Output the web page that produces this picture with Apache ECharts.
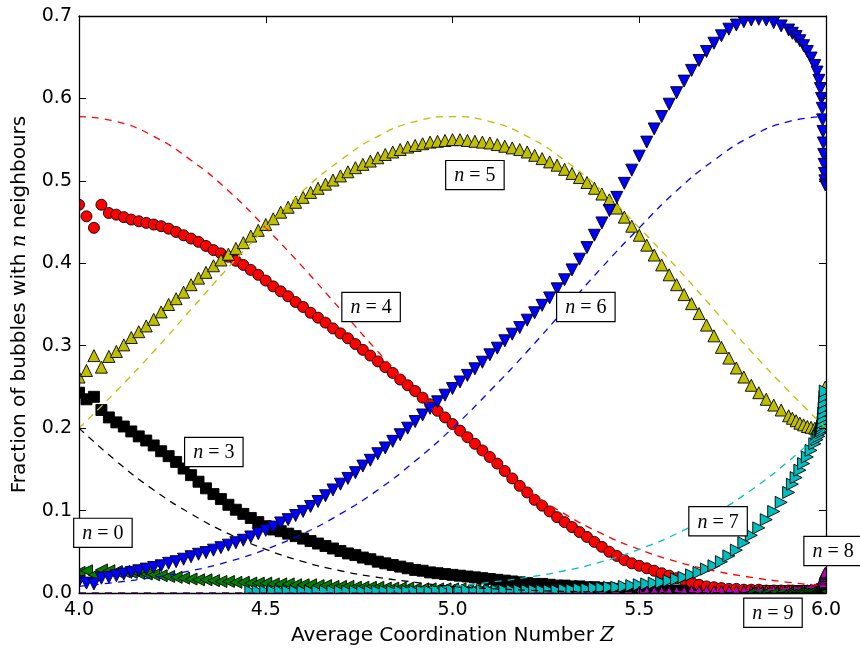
<!DOCTYPE html>
<html><head><meta charset="utf-8">
<script src="https://cdn.jsdelivr.net/npm/echarts@6/dist/echarts.min.js"></script>
<style>html,body{margin:0;padding:0;background:#fff}#c{width:860px;height:651px}</style>
</head><body><div id="c"></div>
<script>
// Average coordination number Z (sample positions)
const zValues = [
4.00,4.02,4.04,4.06,4.08,4.10,4.12,4.14,4.16,4.18,
4.20,4.22,4.24,4.26,4.28,4.30,4.32,4.34,4.36,4.38,
4.40,4.42,4.44,4.46,4.48,4.50,4.52,4.54,4.56,4.58,
4.60,4.62,4.64,4.66,4.68,4.70,4.72,4.74,4.76,4.78,
4.80,4.82,4.84,4.86,4.88,4.90,4.92,4.94,4.96,4.98,
5.00,5.02,5.04,5.06,5.08,5.10,5.12,5.14,5.16,5.18,
5.20,5.22,5.24,5.26,5.28,5.30,5.32,5.34,5.36,5.38,
5.40,5.42,5.44,5.46,5.48,5.50,5.52,5.54,5.56,5.58,
5.60,5.62,5.64,5.66,5.68,5.70,
5.72,5.74,5.76,5.78,5.80,5.82,5.84,5.86,5.88,5.90,
5.91,5.92,5.93,5.94,5.95,5.96,5.97,5.976,5.981,5.985,
5.988,5.990,5.991,5.992,5.993,5.994,5.995,5.996,5.997,5.998];

// n = 0 (rattlers)
const frac0 = [
0.025,0.027,0.022,0.028,0.027,0.026,0.026,0.025,0.024,0.023,
0.022,0.021,0.020,0.019,0.018,0.017,0.016,0.016,0.015,0.014,
0.014,0.013,0.013,0.012,0.012,0.012,0.011,0.011,0.011,0.010,
0.010,0.010,0.009,0.009,0.008,0.008,0.008,0.007,0.007,0.007,
0.007,0.006,0.006,0.006,0.006,0.005,0.005,0.005,0.005,0.005,
0.005,0.005,0.004,0.004,0.004,0.004,0.004,0.004,0.004,0.004,
0.003,0.003,0.003,0.003,0.003,0.003,0.003,0.003,0.003,0.003,
0.003,0.003,0.003,0.003,0.003,0.002,0.002,0.002,0.002,0.002,
0.002,0.002,0.002,0.002,0.002,0.002,
0.002,0.002,0.002,0.002,0.002,0.002,0.002,0.002,0.002,0.002,
0.001,0.001,0.001,0.001,0.001,0.001,0.001,0.001,0.001,0.001,
0.001,0.001,0.001,0.001,0.001,0.001,0.001,0.001,0.001,0.001];

// n = 3
const frac3 = [
0.243,0.235,0.238,0.222,0.213,0.207,0.202,0.196,0.190,0.185,
0.179,0.172,0.166,0.159,0.151,0.143,0.135,0.127,0.120,0.114,
0.107,0.101,0.096,0.091,0.086,0.081,0.077,0.075,0.072,0.069,
0.066,0.063,0.060,0.057,0.054,0.051,0.048,0.046,0.043,0.041,
0.038,0.036,0.034,0.032,0.030,0.028,0.027,0.025,0.024,0.023,
0.022,0.021,0.020,0.019,0.018,0.017,0.016,0.015,0.014,0.013,
0.012,0.011,0.011,0.010,0.009,0.009,0.008,0.008,0.007,0.007,
0.006,0.006,0.005,0.005,0.005,0.004,0.004,0.004,0.003,0.003,
0.003,0.003,0.003,0.003,0.003,0.003,
0.002,0.002,0.002,0.002,0.002,0.002,0.002,0.002,0.002,0.002,
0.002,0.002,0.002,0.002,0.002,0.002,0.002,0.002,0.002,0.002,
0.001,0.001,0.001,0.001,0.001,0.001,0.001,0.001,0.001,0.001];

// n = 4
const frac4 = [
0.471,0.457,0.443,0.471,0.461,0.459,0.456,0.453,0.451,0.449,
0.447,0.445,0.442,0.438,0.434,0.430,0.426,0.421,0.416,0.412,
0.408,0.403,0.398,0.392,0.386,0.379,0.372,0.366,0.360,0.353,
0.347,0.340,0.334,0.328,0.321,0.315,0.309,0.302,0.295,0.288,
0.281,0.274,0.267,0.259,0.252,0.245,0.237,0.229,0.221,0.213,
0.205,0.197,0.189,0.181,0.173,0.165,0.157,0.148,0.139,0.130,
0.122,0.113,0.106,0.099,0.092,0.086,0.080,0.074,0.068,0.062,
0.056,0.050,0.045,0.040,0.036,0.033,0.030,0.027,0.024,0.021,
0.018,0.016,0.013,0.010,0.008,0.007,
0.006,0.005,0.005,0.004,0.004,0.004,0.003,0.003,0.003,0.003,
0.003,0.002,0.002,0.002,0.002,0.002,0.002,0.002,0.002,0.002,
0.002,0.002,0.001,0.001,0.001,0.001,0.001,0.001,0.001,0.001];

// n = 5
const frac5 = [
0.262,0.270,0.288,0.274,0.287,0.293,0.301,0.310,0.317,0.324,
0.332,0.341,0.350,0.357,0.365,0.374,0.382,0.389,0.397,0.404,
0.411,0.418,0.425,0.433,0.440,0.447,0.454,0.462,0.468,0.474,
0.480,0.486,0.491,0.496,0.501,0.506,0.511,0.516,0.520,0.524,
0.528,0.532,0.535,0.538,0.541,0.543,0.545,0.547,0.548,0.549,
0.550,0.550,0.549,0.548,0.547,0.546,0.544,0.542,0.540,0.538,
0.535,0.531,0.527,0.523,0.519,0.514,0.509,0.504,0.498,0.491,
0.484,0.477,0.467,0.456,0.445,0.434,0.422,0.410,0.398,0.386,
0.374,0.362,0.351,0.339,0.325,0.312,
0.298,0.285,0.273,0.262,0.252,0.243,0.235,0.228,0.222,0.215,
0.212,0.209,0.206,0.204,0.202,0.201,0.200,0.200,0.201,0.203,
0.206,0.210,0.214,0.218,0.222,0.227,0.232,0.238,0.244,0.250];

// n = 6
const frac6 = [
0.014,0.012,0.011,0.018,0.019,0.021,0.023,0.025,0.027,0.029,
0.031,0.033,0.036,0.038,0.041,0.044,0.047,0.049,0.052,0.055,
0.058,0.061,0.064,0.068,0.072,0.076,0.080,0.085,0.089,0.094,
0.099,0.105,0.111,0.118,0.125,0.132,0.139,0.146,0.154,0.161,
0.169,0.176,0.184,0.192,0.200,0.208,0.216,0.224,0.232,0.240,
0.248,0.256,0.264,0.272,0.280,0.289,0.297,0.306,0.314,0.322,
0.331,0.340,0.349,0.358,0.369,0.380,0.392,0.405,0.419,0.434,
0.449,0.464,0.480,0.497,0.513,0.530,0.547,0.563,0.578,0.593,
0.607,0.621,0.634,0.646,0.657,0.667,
0.676,0.684,0.689,0.693,0.695,0.696,0.695,0.692,0.688,0.683,
0.679,0.675,0.670,0.664,0.657,0.649,0.640,0.632,0.622,0.612,
0.600,0.588,0.574,0.560,0.546,0.532,0.520,0.509,0.500,0.495];

// n = 7 (starts at zValues[23] = 4.46)
const n7Start = 23;
const frac7 = [
0.002,0.002,0.002,0.002,0.002,0.002,0.002,
0.002,0.002,0.002,0.002,0.002,0.002,0.002,0.002,0.002,0.002,
0.002,0.002,0.002,0.002,0.002,0.002,0.002,0.002,0.002,0.002,
0.003,0.003,0.003,0.003,0.003,0.003,0.003,0.003,0.003,0.003,
0.003,0.003,0.003,0.003,0.003,0.004,0.004,0.005,0.005,0.006,
0.006,0.007,0.007,0.008,0.009,0.010,0.011,0.012,0.013,0.015,
0.017,0.019,0.022,0.025,0.029,0.033,
0.038,0.045,0.052,0.061,0.070,0.079,0.089,0.099,0.110,0.122,
0.132,0.140,0.149,0.157,0.165,0.173,0.181,0.186,0.190,0.194,
0.197,0.200,0.203,0.207,0.212,0.218,0.224,0.231,0.238,0.245];

// n = 8 (starts at zValues[75] = 5.50)
const n8Start = 75;
const frac8 = [
0.002,0.002,0.002,0.002,0.002,
0.002,0.002,0.003,0.003,0.003,0.003,
0.003,0.003,0.003,0.003,0.003,0.003,0.003,0.003,0.003,0.003,
0.003,0.003,0.003,0.004,0.004,0.005,0.005,0.006,0.007,0.008,
0.010,0.012,0.014,0.016,0.018,0.020,0.022,0.023,0.024,0.025];

// n = 9 (starts at zValues[90] = 5.80)
const n9Start = 90;
const frac9 = [
0.001,0.001,0.001,0.001,0.001,0.001,
0.001,0.001,0.001,0.001,0.001,0.001,0.001,0.001,0.001,0.001,
0.001,0.001,0.001,0.001,0.001,0.001,0.001,0.001,0.001,0.001];

// Theory curves (dashed)
const zTheory = [4.0,4.1,4.2,4.3,4.4,4.5,4.6,4.7,4.8,4.9,5.0,5.1,5.2,5.3,5.4,5.5,5.6,5.7,5.8,5.9,6.0];
const theory3 = [0.200,0.160,0.125,0.096,0.072,0.053,0.038,0.027,0.019,0.013,0.008,0.0054,0.0034,0.002,0.0013,0.0007,0.0004,0.0002,0.0001,0.0000,0.0000];
const theory4 = [0.578,0.572,0.554,0.525,0.488,0.443,0.395,0.344,0.293,0.245,0.200,0.160,0.125,0.096,0.072,0.053,0.038,0.027,0.019,0.013,0.008];
const theory5 = [0.200,0.245,0.293,0.344,0.395,0.443,0.488,0.525,0.554,0.572,0.578,0.572,0.554,0.525,0.488,0.443,0.395,0.344,0.293,0.245,0.200];
const theory6 = [0.008,0.013,0.019,0.027,0.038,0.053,0.072,0.096,0.125,0.160,0.200,0.245,0.293,0.344,0.395,0.443,0.488,0.525,0.554,0.572,0.578];
const theory7 = [0.0000,0.0000,0.0001,0.0002,0.0004,0.0007,0.0013,0.002,0.0034,0.0054,0.008,0.013,0.019,0.027,0.038,0.053,0.072,0.096,0.125,0.160,0.200];
const theory8 = [0.0000,0.0000,0.0000,0.0000,0.0000,0.0000,0.0000,0.0000,0.0000,0.0000,0.0000,0.0000,0.0001,0.0002,0.0004,0.0007,0.0013,0.002,0.0034,0.0054,0.0083];

const xTicks = [4.0, 4.5, 5.0, 5.5, 6.0];
const yTicks = [0.0, 0.1, 0.2, 0.3, 0.4, 0.5, 0.6, 0.7];

// Annotation boxes: label and data position of the box centre
const annotations = [
  {n: '0', z: 4.064, v: 0.073},
  {n: '3', z: 4.361, v: 0.171},
  {n: '4', z: 4.782, v: 0.347},
  {n: '5', z: 5.060, v: 0.507},
  {n: '6', z: 5.357, v: 0.347},
  {n: '7', z: 5.711, v: 0.087},
  {n: '8', z: 6.019, v: 0.051},
  {n: '9', z: 5.858, v: -0.024}
];

const chart = echarts.init(document.getElementById('c'), null, {renderer: 'canvas'});

function pairs(vals, start) {
  start = start || 0;
  return vals.map((v, i) => [zValues[i + start], v]);
}
function tpairs(vals) { return vals.map((v, i) => [zTheory[i], v]); }

const axisCommon = {
  type: 'value', z: 10,
  axisLine: {show: true, onZero: false, lineStyle: {color: '#000', width: 1.3}},
  axisTick: {show: true, inside: true, length: 7, lineStyle: {color: '#000', width: 1}},
  splitLine: {show: false}
};
const tickStyle = {color: '#000', fontSize: 19, fontFamily: 'DejaVu Sans'};
const nameStyle = {color: '#000', fontSize: 20, fontFamily: 'DejaVu Sans',
  rich: {i: {fontFamily: 'DejaVu Serif', fontStyle: 'italic', fontSize: 20, color: '#000'}}};

function scatter(name, data, color, symbol, rotate, size) {
  return {
    name, type: 'scatter', data, symbol, symbolRotate: rotate || 0, symbolSize: size || 10,
    itemStyle: {color, borderColor: '#000', borderWidth: 0.9, opacity: 1},
    z: 2, silent: true, animation: false
  };
}
function dashed(name, data, color) {
  return {
    name, type: 'line', data, showSymbol: false, symbol: 'none', smooth: true,
    lineStyle: {color, width: 1.3, type: [7, 6]}, z: 3, silent: true, animation: false
  };
}

const option = {
  animation: false,
  backgroundColor: '#fff',
  grid: {left: 79, right: 34, top: 16, bottom: 58, containLabel: false},
  xAxis: [
    Object.assign({}, axisCommon, {
      position: 'bottom', min: xTicks[0], max: xTicks[xTicks.length - 1], interval: 0.5,
      axisLabel: Object.assign({}, tickStyle, {margin: 8, formatter: v => v.toFixed(1)}),
      name: 'Average Coordination Number {i|Z}', nameLocation: 'middle', nameGap: 33,
      nameTextStyle: nameStyle
    }),
    Object.assign({}, axisCommon, {
      position: 'top', min: xTicks[0], max: xTicks[xTicks.length - 1], interval: 0.5,
      axisLabel: {show: false}
    })
  ],
  yAxis: [
    Object.assign({}, axisCommon, {
      position: 'left', min: yTicks[0], max: yTicks[yTicks.length - 1], interval: 0.1,
      axisLabel: Object.assign({}, tickStyle, {margin: 7, formatter: v => v.toFixed(1)}),
      name: 'Fraction of bubbles with {i|n} neighbours', nameLocation: 'middle', nameGap: 49,
      nameTextStyle: nameStyle
    }),
    Object.assign({}, axisCommon, {
      position: 'right', min: yTicks[0], max: yTicks[yTicks.length - 1], interval: 0.1,
      axisLabel: {show: false}
    })
  ],
  series: [
    scatter('n=0', pairs(frac0), '#008000', 'triangle', 90, 12),
    scatter('n=3', pairs(frac3), '#000000', 'rect', 0, 11),
    scatter('n=4', pairs(frac4), '#ff0000', 'circle', 0, 11),
    scatter('n=5', pairs(frac5), '#bfbf00', 'triangle', 0, 12),
    scatter('n=6', pairs(frac6), '#0000ff', 'triangle', 180, 12),
    scatter('n=7', pairs(frac7, n7Start), '#00bfbf', 'triangle', -90, 12),
    scatter('n=8', pairs(frac8, n8Start), '#bf00bf', 'triangle', 0, 10),
    scatter('n=9', pairs(frac9, n9Start), '#006400', 'triangle', 90, 10),
    dashed('t3', tpairs(theory3), '#000000'),
    dashed('t4', tpairs(theory4), '#ff0000'),
    dashed('t5', tpairs(theory5), '#bfbf00'),
    dashed('t6', tpairs(theory6), '#0000ff'),
    dashed('t7', tpairs(theory7), '#00bfbf'),
    dashed('t8', tpairs(theory8), '#bf00bf')
  ]
};
chart.setOption(option);

// Mask outside the plot area (markers are clipped at the axes), and add the boxed labels
const p0 = chart.convertToPixel({gridIndex: 0}, [xTicks[0], yTicks[0]]);
const p1 = chart.convertToPixel({gridIndex: 0}, [xTicks[xTicks.length - 1], yTicks[yTicks.length - 1]]);
const W = 860, H = 651;
const masks = [
  {x: 0, y: 0, width: p0[0], height: H},
  {x: p1[0], y: 0, width: W - p1[0], height: H},
  {x: 0, y: 0, width: W, height: p1[1]},
  {x: 0, y: p0[1], width: W, height: H - p0[1]}
].map(r => ({type: 'rect', shape: r, style: {fill: '#fff'}, z: 5, silent: true}));

const labels = annotations.map(a => {
  const p = chart.convertToPixel({gridIndex: 0}, [a.z, a.v]);
  return {
    type: 'text', x: p[0], y: p[1], z: 20, silent: true,
    style: {
      text: '{i|n} = ' + a.n,
      font: '20px "Liberation Serif"', fill: '#000',
      align: 'center', verticalAlign: 'middle',
      backgroundColor: '#fff', borderColor: '#000', borderWidth: 1.2,
      padding: [5, 8, 3, 8],
      rich: {i: {fontStyle: 'italic', fontFamily: 'Liberation Serif', fontSize: 20, fill: '#000'}}
    }
  };
});
chart.setOption({graphic: masks.concat(labels)});
</script>
</body></html>
